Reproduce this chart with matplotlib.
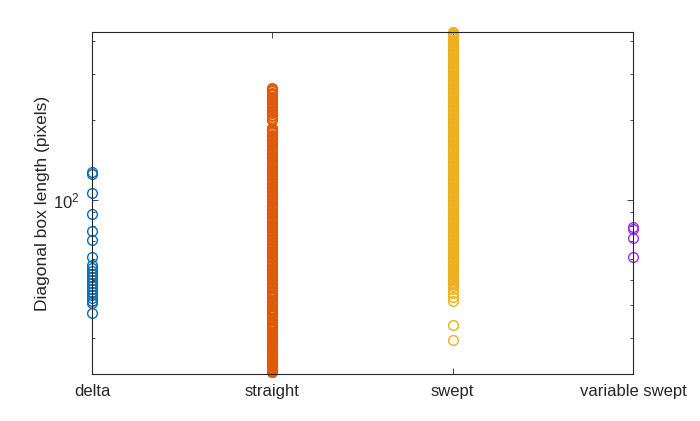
import numpy as np
import matplotlib.pyplot as plt
from matplotlib.ticker import LogLocator, NullFormatter

plt.rcParams['font.family'] = ['Liberation Sans', 'DejaVu Sans']

categories = ['delta', 'straight', 'swept', 'variable swept']

# diagonal box length (pixels)
delta_len = [127.6, 125.4, 106.0, 88.5, 76.7, 70.6, 60.9,
             56.8, 55.3, 53.9, 52.5, 51.2, 49.9, 48.6, 47.4, 46.1,
             44.9, 43.8, 42.7, 41.6, 40.8, 37.3]

straight_len = [22.3, 22.6, 22.9, 23.3, 23.7, 24.1, 24.5, 25.0, 25.4, 25.9,
                26.4, 26.9, 27.5, 28.0, 28.6, 29.2, 29.8, 30.5, 31.1, 31.8,
                32.5, 33.2, 34.0, 34.7, 35.5, 36.3, 37.1, 38.0, 38.8, 39.7,
                40.6, 41.5, 42.5, 43.4, 44.4, 45.4, 46.4, 47.5, 48.6, 49.7,
                50.8, 52.0, 53.2, 54.4, 55.6, 56.9, 58.2, 59.5, 60.9, 62.3,
                63.7, 65.2, 66.7, 68.2, 69.8, 71.4, 73.0, 74.7, 76.4, 78.1,
                79.9, 81.7, 83.6, 85.5, 87.5, 89.5, 91.5, 93.6, 95.8, 98.0,
                100.2, 102.5, 104.9, 107.3, 109.7, 112.2, 114.8, 117.4, 120.1, 122.9,
                125.7, 128.6, 131.5, 134.5, 137.6, 140.8, 144.0, 147.3, 150.7, 154.1,
                157.7, 161.3, 165.0, 168.8, 172.6, 176.6, 180.6, 184.8, 188.0,
                201.0, 205.0, 210.0, 215.0, 220.0, 225.0, 230.0, 235.0, 241.0,
                246.0, 252.0, 258.0, 262.0, 265.0,
                22.45, 22.75, 23.1, 23.5, 23.9, 24.3, 24.75, 25.2, 25.65, 26.15,
                26.65, 27.2, 27.75, 28.3, 28.9, 29.5, 30.15, 30.8, 31.45, 32.15,
                32.85, 33.6, 34.35, 35.1, 35.9, 36.7, 37.55, 38.4, 39.25, 40.15,
                41.05, 42.0, 42.95, 43.9, 44.9, 45.9, 46.95, 48.05, 49.15, 50.25,
                51.4, 52.6, 53.8, 55.0, 56.25, 57.55, 58.85, 60.2, 61.6, 63.0,
                64.45, 65.95, 67.45, 69.0, 70.6, 72.2, 73.85, 75.55, 77.25, 79.0,
                80.8, 82.65, 84.55, 86.5, 88.5, 90.5, 92.55, 94.7, 96.9, 99.1,
                101.35, 103.7, 106.1, 108.5, 110.95, 113.5, 116.1, 118.75, 121.5, 124.3,
                127.15, 130.05, 133.0, 136.05, 139.2, 142.4, 145.65, 149.0, 152.4, 155.9,
                159.5, 163.15, 166.9, 170.7, 174.6, 178.6, 182.7, 186.4,
                203.0, 207.5, 212.5, 217.5, 222.5, 227.5, 232.5, 238.0, 243.5, 249.0,
                255.0, 260.0]

swept_len = [29.6, 33.6, 41.6, 43.0, 44.5, 46.0,
             47.5, 48.6, 49.7, 50.8, 52.0, 53.2, 54.4, 55.6, 56.9, 58.2,
             59.5, 60.9, 62.3, 63.7, 65.2, 66.7, 68.2, 69.8, 71.4, 73.0,
             74.7, 76.4, 78.1, 79.9, 81.7, 83.6, 85.5, 87.5, 89.5, 91.5,
             93.6, 95.8, 98.0, 100.2, 102.5, 104.9, 107.3, 109.7, 112.2, 114.8,
             117.4, 120.1, 122.9, 125.7, 128.6, 131.5, 134.5, 137.6, 140.8, 144.0,
             147.3, 150.7, 154.1, 157.7, 161.3, 165.0, 168.8, 172.6, 176.6, 180.6,
             184.8, 189.0, 193.3, 197.8, 202.3, 207.0, 211.7, 216.6, 221.6, 226.7,
             231.9, 237.2, 242.6, 248.2, 253.9, 259.7, 265.7, 271.8, 278.0, 284.4,
             290.9, 297.6, 304.4, 311.4, 318.6, 325.9, 333.4, 341.1, 348.9, 356.9,
             365.1, 373.5, 382.1, 390.9, 399.9, 409.1, 418.5, 425.0, 432.0,
             48.05, 49.15, 50.25, 51.4, 52.6, 53.8, 55.0, 56.25, 57.55, 58.85,
             60.2, 61.6, 63.0, 64.45, 65.95, 67.45, 69.0, 70.6, 72.2, 73.85,
             75.55, 77.25, 79.0, 80.8, 82.65, 84.55, 86.5, 88.5, 90.5, 92.55,
             94.7, 96.9, 99.1, 101.35, 103.7, 106.1, 108.5, 110.95, 113.5, 116.1,
             118.75, 121.5, 124.3, 127.15, 130.05, 133.0, 136.05, 139.2, 142.4, 145.65,
             149.0, 152.4, 155.9, 159.5, 163.15, 166.9, 170.7, 174.6, 178.6, 182.7,
             186.9, 191.15, 195.55, 200.05, 204.65, 209.35, 214.15, 219.1, 224.15, 229.3,
             234.55, 239.9, 245.4, 251.05, 256.8, 262.7, 268.75, 274.9, 281.2, 287.65,
             294.25, 301.0, 307.9, 315.0, 322.25, 329.65, 337.25, 345.0, 352.9, 361.0,
             369.3, 377.8, 386.5, 395.4, 404.5, 413.8, 421.7, 428.5]

variable_swept_len = [79.3, 78.0, 71.6, 60.7]

series = [delta_len, straight_len, swept_len, variable_swept_len]
colors = ['#0072BD', '#E05A05', '#EDB120', '#A131E8']

fig = plt.figure(figsize=(7, 4.21), dpi=100)
ax = fig.add_axes([0.1314, 0.1116, 0.7729, 0.8124])

for i, (vals, c) in enumerate(zip(series, colors)):
    xs = np.full(len(vals), i + 1)
    ax.plot(xs, vals, linestyle='none', marker='o', markersize=7,
            markerfacecolor='none', markeredgecolor=c, markeredgewidth=1.0,
            clip_on=False)

ax.set_yscale('log')
ax.set_ylim(22.0, 432)
ax.set_xlim(1, 4)
ax.set_xticks(range(1, len(categories) + 1))
ax.set_xticklabels(categories)
ax.yaxis.set_major_locator(LogLocator(base=10, numticks=10))
ax.yaxis.set_minor_locator(LogLocator(base=10, subs=np.arange(2, 10), numticks=10))
ax.yaxis.set_minor_formatter(NullFormatter())

ax.set_ylabel('Diagonal box length (pixels)', fontsize=12.5, color='#262626',
              labelpad=2)

for side in ax.spines.values():
    side.set_color('#262626')
    side.set_linewidth(0.8)
ax.tick_params(which='both', direction='in', top=True, right=True,
               colors='#262626', labelsize=12, width=0.6)
ax.tick_params(which='major', length=4.5, pad=7)
ax.tick_params(which='minor', length=2.5)
ax.tick_params(axis='y', which='major', pad=9)

fig.savefig('out.png', dpi=100)
